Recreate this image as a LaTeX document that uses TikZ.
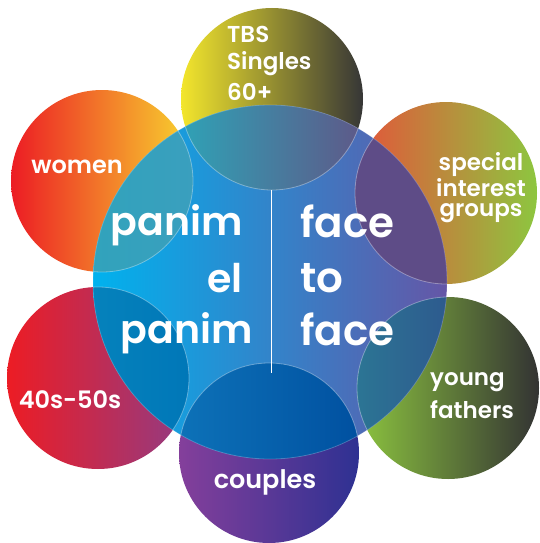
\documentclass[tikz,border=0pt]{standalone}
\usepackage{fontspec}
\setmainfont{Poppins}
\newfontfamily\pop{Poppins SemiBold}
\definecolor{tbsL}{HTML}{F3E62C}\definecolor{tbsM}{HTML}{A08C40}\definecolor{tbsR}{HTML}{363636}
\definecolor{womL}{HTML}{EC1C24}\definecolor{womM}{HTML}{F08A2A}\definecolor{womR}{HTML}{F8D62F}
\definecolor{speL}{HTML}{E5533A}\definecolor{speM}{HTML}{C89A3A}\definecolor{speR}{HTML}{8DC63F}
\definecolor{forL}{HTML}{ED1C24}\definecolor{forR}{HTML}{913C84}
\definecolor{yngL}{HTML}{8CC43F}\definecolor{yngM}{HTML}{5E7E40}\definecolor{yngR}{HTML}{333333}
\definecolor{couL}{HTML}{843F9B}\definecolor{couR}{HTML}{2E3192}
\definecolor{bigL}{HTML}{00B2EE}\definecolor{bigR}{HTML}{6556A6}
\definecolor{xwomL}{HTML}{2AA6BA}\definecolor{xwomR}{HTML}{3A9FBE}
\definecolor{xtbsL}{HTML}{2FA2B6}\definecolor{xtbsM}{HTML}{4A80A8}\definecolor{xtbsR}{HTML}{5E5888}
\definecolor{xspe}{HTML}{5E4C87}
\definecolor{xyngL}{HTML}{2C7594}\definecolor{xyngR}{HTML}{2F3F88}
\definecolor{xcouL}{HTML}{0D72B8}\definecolor{xcouR}{HTML}{0050A0}
\definecolor{xforL}{HTML}{0A8CBF}\definecolor{xforR}{HTML}{0077B8}
\begin{document}
\begin{tikzpicture}[x=1pt,y=-1pt,
  rim/.style={draw=white,draw opacity=0.35,line width=0.8pt},
  bigtxt/.style={font=\pop\fontsize{42}{42}\selectfont,text=white,inner sep=0pt},
  pantxt/.style={font=\pop\fontsize{39.5}{40}\selectfont,text=white,inner sep=0pt},
  lab/.style={font=\pop\fontsize{23}{23}\selectfont,text=white,inner sep=0pt},
  slab/.style={font=\pop\fontsize{24}{24}\selectfont,text=white,inner sep=0pt},
  glab/.style={font=\pop\fontsize{23}{20}\selectfont,text=white,inner sep=0pt}]
\useasboundingbox (0,0) rectangle (539,543);
% centres
\coordinate (cB) at (270,282);
\coordinate (cT) at (272,99);
\coordinate (cW) at (102,181);
\coordinate (cS) at (446,193);
\coordinate (cF) at (98,378);
\coordinate (cY) at (448,388);
\coordinate (cC) at (269,453);
% outer circles
\shade[left color=tbsL,middle color=tbsM,right color=tbsR] (cT) circle[radius=91];
\shade[left color=womL,middle color=womM,right color=womR] (cW) circle[radius=91];
\shade[left color=speL,middle color=speM,right color=speR] (cS) circle[radius=91];
\shade[left color=forL,right color=forR] (cF) circle[radius=91];
\shade[left color=yngL,middle color=yngM,right color=yngR] (cY) circle[radius=91];
\shade[left color=couL,right color=couR] (cC) circle[radius=90];
% central circle
\shade[left color=bigL,right color=bigR] (cB) circle[radius=177];
% overlaps
\begin{scope}
\clip (cB) circle[radius=177];
\shade[left color=xtbsL,middle color=xtbsM,right color=xtbsR] (cT) circle[radius=91];
\shade[left color=xwomL,right color=xwomR] (cW) circle[radius=91];
\fill[xspe] (cS) circle[radius=91];
\shade[left color=xforL,right color=xforR] (cF) circle[radius=91];
\shade[left color=xyngL,right color=xyngR] (cY) circle[radius=91];
\shade[left color=xcouL,right color=xcouR] (cC) circle[radius=90];
\draw[rim] (cT) circle[radius=91] (cW) circle[radius=91] (cS) circle[radius=91]
  (cF) circle[radius=91] (cY) circle[radius=91] (cC) circle[radius=90];
\end{scope}
\draw[rim,draw opacity=0.2] (cB) circle[radius=177];
% divider
\coordinate (lt) at (271,190);
\coordinate (lb) at (271,373);
\draw[white,line width=1pt] (lt) -- (lb);
% central text
\node[pantxt,anchor=base east] (p1) at (243,235) {panim};
\node[pantxt,anchor=base east] (p2) at (243,292) {el};
\node[pantxt,anchor=base east] (p3) at (253,343) {panim};
\node[bigtxt,anchor=base west] (f1) at (300,237) {face};
\node[bigtxt,anchor=base west] (f2) at (300,292) {to};
\node[bigtxt,anchor=base west] (f3) at (300,345) {face};
% labels
\node[lab,anchor=base west] (t1) at (227,42) {TBS};
\node[lab,anchor=base west] (t2) at (227,70) {Singles};
\node[lab,anchor=base west] (t3) at (227,100) {60+};
\node[slab,anchor=base] (w1) at (77,173) {women};
\node[glab,anchor=base,align=center] (s1) at (481,216) {special\\interest\\groups};
\node[slab,anchor=base] (a1) at (70,408) {40s-50s};
\node[lab,anchor=base west] (y1) at (430,385) {young};
\node[lab,anchor=base west] (y2) at (430,418) {fathers};
\node[slab,anchor=base,font=\pop\fontsize{25.5}{25.5}\selectfont] (c1) at (265,488) {couples};
\end{tikzpicture}
\end{document}
